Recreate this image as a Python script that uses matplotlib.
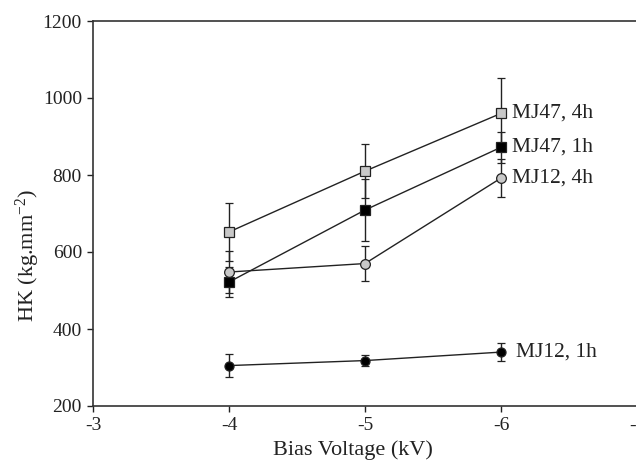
import matplotlib
matplotlib.use("Agg")
import matplotlib.pyplot as plt

plt.rcParams['font.family'] = ['Liberation Serif', 'DejaVu Serif']
plt.rcParams['mathtext.fontset'] = 'custom'
plt.rcParams['mathtext.rm'] = 'Liberation Serif'
plt.rcParams['mathtext.it'] = 'Liberation Serif:italic'

voltage = [-4, -5, -6]
series_names = ["MJ47, 4h", "MJ47, 1h", "MJ12, 4h", "MJ12, 1h"]
mj47_4h = [652, 810, 960]
mj47_4h_err = [75, 70, 92]
mj47_1h = [522, 709, 872]
mj47_1h_err = [38, 80, 40]
mj12_4h = [548, 570, 792]
mj12_4h_err = [55, 46, 50]
mj12_1h = [305, 318, 340]
mj12_1h_err = [30, 14, 23]

x_ticks = [-3, -4, -5, -6, -7]
y_ticks = [200, 400, 600, 800, 1000, 1200]

W, H = 636, 462
fig = plt.figure(figsize=(W / 100, H / 100), dpi=100)
left, right, top, bottom = 93, 637, 21, 406
ax = fig.add_axes([left / W, 1 - bottom / H, (right - left) / W, (bottom - top) / H])

styles = [
    (mj47_4h, mj47_4h_err, 's', '#c8c8c8', 7, 8),
    (mj47_1h, mj47_1h_err, 's', 'black', 7, 8),
    (mj12_4h, mj12_4h_err, 'o', '#c8c8c8', 7, 8),
    (mj12_1h, mj12_1h_err, 'o', 'black', 6.5, 11),
]
for (vals, errs, mk, fc, ms, off), name in zip(styles, series_names):
    ax.errorbar(voltage, vals, yerr=errs, fmt='-', color='#222222', lw=1.0,
                marker=mk, markerfacecolor=fc, markeredgecolor='#222222',
                markersize=ms, markeredgewidth=0.9, ecolor='#222222',
                elinewidth=1.0, capsize=3, capthick=1.0, zorder=3)
    ax.annotate(name, xy=(voltage[-1], vals[-1]), xytext=(off, 0),
                textcoords='offset points', va='center', ha='left',
                fontsize=15.5, color='#222222')

ax.set_xlim(-3, -7)
ax.set_ylim(200, 1200)
ax.set_xticks(x_ticks)
ax.set_xticklabels([str(t) for t in x_ticks])
ax.set_yticks(y_ticks)
ax.tick_params(axis='both', direction='out', length=4, width=1.0,
               labelsize=14, colors='#222222', pad=4)
for side in ['left', 'bottom', 'top']:
    ax.spines[side].set_linewidth(1.2)
    ax.spines[side].set_color('#333333')
ax.spines['right'].set_visible(False)

ax.set_xlabel('Bias Voltage (kV)', fontsize=16, color='#222222')
ax.set_ylabel('HK (kg.mm$^{-2}$)', fontsize=16, color='#222222')
ax.xaxis.set_label_coords(0.478, -0.09)
ax.yaxis.set_label_coords(-0.094, 0.39)

fig.savefig('out.png', dpi=100)
